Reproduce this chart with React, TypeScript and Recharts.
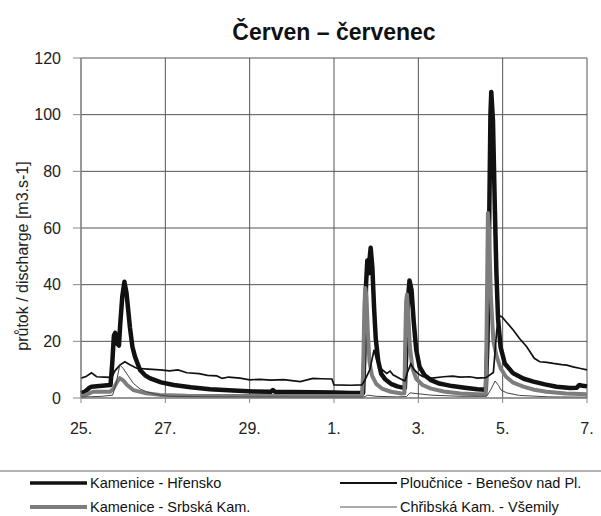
import React from "react";
import { LineChart, Line, XAxis, YAxis, CartesianGrid } from "recharts";

// x = days since 25 June, y = discharge [m3.s-1]
const DAY_TICKS = [0, 2, 4, 6, 8, 10, 12];
const DAY_LABELS = ["25.", "27.", "29.", "1.", "3.", "5.", "7."];
const Q_TICKS = [0, 20, 40, 60, 80, 100, 120];

const HRENSKO: [number, number][] = [
  [0, 1.7], [0.1, 2.3], [0.2, 3.6], [0.25, 4.0], [0.5, 4.3], [0.7, 4.6], [0.74, 12],
  [0.78, 22], [0.81, 23], [0.84, 19.5], [0.9, 18.5], [0.93, 26], [0.98, 36], [1.03, 41],
  [1.08, 37], [1.16, 25], [1.22, 18], [1.28, 14.6], [1.4, 9.9], [1.52, 8], [1.64, 6.9],
  [1.9, 5.5], [2.2, 4.6], [2.6, 3.8], [3.06, 3.1], [3.5, 2.7], [4.08, 2.3], [4.5, 2.2],
  [4.55, 2.8], [4.6, 2.2], [5.0, 2.1], [5.5, 2.0], [6.0, 1.9], [6.4, 1.8], [6.69, 1.8],
  [6.72, 15], [6.76, 40], [6.79, 48.5], [6.82, 44], [6.85, 50], [6.87, 53], [6.91, 46],
  [6.95, 32], [6.99, 21], [7.05, 13], [7.12, 8.5], [7.22, 6.5], [7.35, 5], [7.5, 4.1],
  [7.68, 3.5], [7.72, 18], [7.76, 36], [7.79, 41.5], [7.84, 38], [7.89, 27], [7.95, 17],
  [8.03, 11], [8.15, 8], [8.3, 6.3], [8.5, 5.1], [8.8, 4.2], [9.1, 3.6], [9.4, 3.1],
  [9.6, 2.9], [9.64, 20], [9.68, 62], [9.71, 100], [9.73, 108], [9.77, 98], [9.81, 70],
  [9.85, 45], [9.89, 28], [9.95, 18], [10.05, 12.2], [10.25, 8.7], [10.5, 6.8],
  [10.73, 5.8], [11.0, 4.8], [11.28, 4.0], [11.6, 3.5], [11.75, 3.6], [11.82, 4.6],
  [11.9, 4.3], [12, 4.1],
];

const SRBSKA: [number, number][] = [
  [0, 0.5], [0.1, 1.0], [0.29, 2.2], [0.69, 2.2], [0.77, 3.3], [0.85, 5.5], [0.92, 7],
  [1.0, 6.2], [1.1, 4.5], [1.24, 2.8], [1.5, 1.8], [1.87, 1.1], [2.5, 0.8], [3.5, 0.7],
  [5, 0.7], [6.66, 0.7], [6.69, 8], [6.72, 32], [6.74, 38.8], [6.77, 36], [6.8, 24],
  [6.84, 13], [6.9, 8], [7.0, 5], [7.15, 3.2], [7.35, 2.2], [7.6, 1.6], [7.67, 1.7],
  [7.69, 20], [7.71, 34], [7.73, 36.5], [7.76, 30], [7.8, 18], [7.86, 10.5], [7.95, 6.8],
  [8.1, 4.6], [8.3, 3.3], [8.6, 2.3], [9.0, 1.6], [9.4, 1.3], [9.6, 1.3], [9.62, 25],
  [9.65, 65.3], [9.68, 58], [9.72, 36], [9.78, 20], [9.86, 14.6], [9.95, 10.5],
  [10.08, 7.5], [10.25, 5.4], [10.49, 4], [10.75, 2.9], [11.04, 2.2], [11.5, 1.6], [12, 1.3],
];

const BENESOV: [number, number][] = [
  [0, 7.0], [0.12, 7.6], [0.25, 8.9], [0.37, 7.5], [0.55, 7.4], [0.73, 7.3], [0.8, 9.5],
  [0.92, 11.6], [1.04, 12.8], [1.15, 11.8], [1.32, 10.5], [1.6, 10.2], [1.87, 9.9],
  [2.1, 9.6], [2.3, 9.9], [2.51, 8.9], [2.8, 8.6], [3.0, 8.0], [3.22, 7.8], [3.35, 6.9],
  [3.5, 7.4], [3.77, 7.0], [4.0, 6.4], [4.24, 6.6], [4.5, 6.3], [4.8, 6.5], [5.2, 5.8],
  [5.5, 6.9], [5.7, 6.8], [5.95, 6.7], [6.0, 4.6], [6.4, 4.5], [6.66, 4.6], [6.72, 6],
  [6.85, 10], [6.95, 17], [7.01, 13.5], [7.1, 10.5], [7.25, 8.7], [7.33, 9.5],
  [7.4, 8.2], [7.56, 6.9], [7.68, 6.0], [7.74, 9], [7.82, 12], [7.9, 10], [8.0, 8.5],
  [8.1, 7.6], [8.32, 7.0], [8.6, 7.5], [8.81, 7.7], [9.0, 7.4], [9.22, 7.5], [9.4, 7.0],
  [9.6, 7.2], [9.78, 9], [9.86, 24], [9.92, 29], [9.98, 28.7],
  [10.25, 24], [10.4, 21], [10.57, 18.1], [10.75, 14], [10.88, 12.8], [11.05, 12.6],
  [11.2, 12.2], [11.4, 11.8], [11.52, 11.6], [11.67, 11.0], [11.85, 10.4], [12, 9.9],
];

const VSEMILY: [number, number][] = [
  [0, 0.3], [0.5, 0.6], [0.75, 1.0], [0.83, 5], [0.92, 11.6], [1.0, 10.5], [1.08, 8.7],
  [1.24, 5.2], [1.4, 3.2], [1.56, 2.2], [1.8, 1.2], [2.11, 0.6], [3, 0.4], [5, 0.3],
  [6.7, 0.3], [6.8, 1.0], [7.0, 0.6], [7.5, 0.4], [7.72, 0.5], [7.8, 1.8], [8.0, 1.5],
  [8.3, 1.0], [9.0, 0.6], [9.62, 0.6], [9.72, 3], [9.82, 6], [9.9, 4.5], [9.96, 2.8],
  [10.1, 1.8], [10.4, 0.9], [11.1, 0.4], [12, 0.3],
];

const toPoints = (rows: [number, number][]) => rows.map(([d, q]) => ({ d, q }));

const FONT = '"Liberation Sans", Arial, sans-serif';

const LEGEND = [
  { name: "Kamenice - Hřensko", color: "#111", width: 3.5, x: 30, y: 483 },
  { name: "Ploučnice - Benešov nad Pl.", color: "#111", width: 2, x: 340, y: 483 },
  { name: "Kamenice - Srbská Kam.", color: "#7d7d7d", width: 4, x: 30, y: 507 },
  { name: "Chřibská Kam. - Všemily", color: "#555", width: 1.2, x: 340, y: 507 },
];

export default function App() {
  return (
    <div style={{ position: "absolute", left: 0, top: 0, width: 601, height: 516, background: "#fff", fontFamily: FONT }}>
      <LineChart width={601} height={516} data={toPoints(HRENSKO)} margin={{ top: 58, right: 14, bottom: 88, left: 0 }}>
        <CartesianGrid stroke="#555" strokeWidth={1} />
        <XAxis
          dataKey="d"
          type="number"
          domain={[0, 12]}
          ticks={DAY_TICKS}
          tickFormatter={(v: number) => DAY_LABELS[DAY_TICKS.indexOf(v)] ?? ""}
          height={30}
          tickSize={5}
          tickMargin={20}
          stroke="#888"
          tick={{ fontSize: 16, fill: "#222", fontFamily: FONT }}
        />
        <YAxis
          type="number"
          domain={[0, 120]}
          ticks={Q_TICKS}
          width={81}
          tickSize={8}
          tickMargin={12}
          stroke="#888"
          tick={{ fontSize: 16, fill: "#222", fontFamily: FONT }}
        />
        <Line data={toPoints(HRENSKO)} dataKey="q" stroke="#111" strokeWidth={4.5} dot={false} type="linear" isAnimationActive={false} strokeLinejoin="round" />
        <Line data={toPoints(SRBSKA)} dataKey="q" stroke="#7d7d7d" strokeWidth={4} dot={false} type="linear" isAnimationActive={false} strokeLinejoin="round" />
        <Line data={toPoints(BENESOV)} dataKey="q" stroke="#111" strokeWidth={1.7} dot={false} type="linear" isAnimationActive={false} />
        <Line data={toPoints(VSEMILY)} dataKey="q" stroke="#444" strokeWidth={1} dot={false} type="linear" isAnimationActive={false} />
      </LineChart>
      <svg width={601} height={516} style={{ position: "absolute", left: 0, top: 0, pointerEvents: "none" }}>
        <text x={334} y={40} textAnchor="middle" fontSize={23} fontWeight="bold" fill="#111" fontFamily={FONT}>
          Červen – červenec
        </text>
        <text
          x={0}
          y={0}
          transform="translate(28, 256) rotate(-90)"
          textAnchor="middle"
          fontSize={16}
          fill="#222"
          fontFamily={FONT}
        >
          průtok / discharge [m3.s-1]
        </text>
        <line x1={0} y1={471} x2={601} y2={471} stroke="#999" strokeWidth={1.5} />
        {LEGEND.map((item) => (
          <g key={item.name}>
            <line x1={item.x} y1={item.y} x2={item.x + 57} y2={item.y} stroke={item.color} strokeWidth={item.width} />
            <text x={item.x + 60} y={item.y + 5} fontSize={14.5} fill="#111" fontFamily={FONT}>
              {item.name}
            </text>
          </g>
        ))}
      </svg>
    </div>
  );
}
